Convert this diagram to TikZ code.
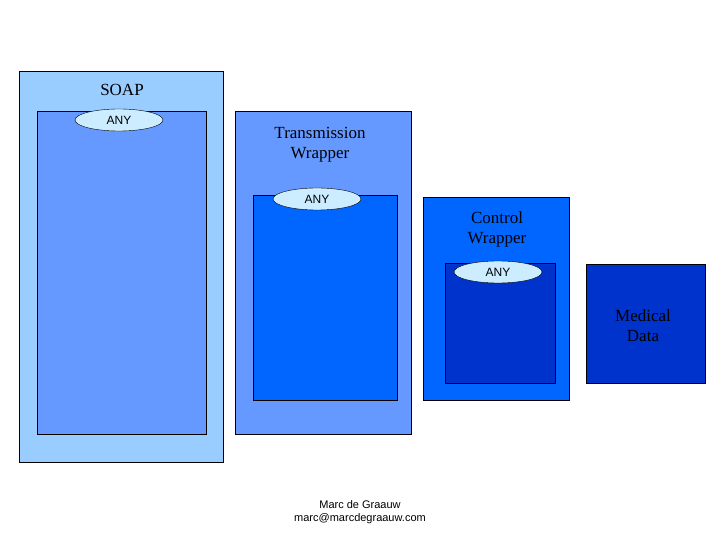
\documentclass[tikz,border=0pt]{standalone}
\usepackage{fontspec}
\usetikzlibrary{shapes.geometric}
\setmainfont{Liberation Serif}
\newfontfamily\arialf{Liberation Sans}
\definecolor{c1}{RGB}{153,204,255}
\definecolor{c2}{RGB}{102,153,255}
\definecolor{c3}{RGB}{0,102,255}
\definecolor{c4}{RGB}{0,51,204}
\definecolor{ell}{RGB}{204,236,255}
\begin{document}
\begin{tikzpicture}[x=1pt,y=-1pt,
  box/.style={draw=black,line width=0.6pt},
  anyell/.style={draw=black,fill=ell,ellipse,minimum width=88pt,minimum height=22pt,inner sep=0pt,font=\arialf\fontsize{12}{12}\selectfont},
  ttl/.style={font=\fontsize{17}{20}\selectfont,align=center}]
\useasboundingbox (0,0) rectangle (720,540);
\fill[white] (0,0) rectangle (720,540);
\draw[box,fill=c1] (19,71) rectangle (223,462);
\draw[box,fill=c2] (37,111) rectangle (206,434);
\node[ttl] (soap) at (122,90) {SOAP};
\node[anyell] (a1) at (119,120) {ANY};
\draw[box,fill=c2] (235,111) rectangle (411,434);
\draw[box,fill=c3] (253,195) rectangle (397,400);
\node[ttl] (tw) at (320,145) {Transmission\\Wrapper};
\node[anyell] (a2) at (317,199) {ANY};
\draw[box,fill=c3] (423,197) rectangle (569,400);
\draw[box,fill=c4] (445,263) rectangle (555,383);
\node[ttl] (cw) at (497,229) {Control\\Wrapper};
\node[anyell] (a3) at (498,272) {ANY};
\draw[box,fill=c4] (586,264) rectangle (705,383);
\node[ttl] (md) at (643,326) {Medical\\Data};
\node[font=\arialf\fontsize{11}{13}\selectfont,align=center] (ft) at (360,512) {Marc de Graauw\\marc@marcdegraauw.com};
\end{tikzpicture}
\end{document}
